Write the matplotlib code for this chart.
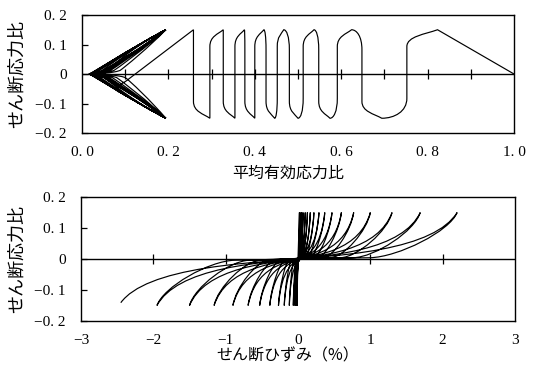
import matplotlib
matplotlib.use("Agg")
import matplotlib.pyplot as plt
from matplotlib.path import Path
from matplotlib.patches import PathPatch

# ---------------- data ----------------
# Top: stress path (mean effective stress ratio vs shear stress ratio)
top_start = (1.0, 0.0)
top_tip_p = [0.823, 0.694, 0.624, 0.574, 0.537, 0.500, 0.467, 0.446,
             0.421, 0.400, 0.376, 0.354, 0.327, 0.296, 0.258]
top_tip_q = [0.15, -0.15, 0.15, -0.15, 0.15, -0.15, 0.15, -0.15,
             0.15, -0.15, 0.15, -0.15, 0.15, -0.15, 0.15]
top_branch_p = [0.752, 0.648, 0.591, 0.548, 0.512, 0.480, 0.452,
                0.426, 0.400, 0.377, 0.354, 0.327, 0.296, 0.258]
# unloading from the last pre-liquefaction peak, with its hook
top_drop_p = [0.100, 0.078, 0.085]
top_drop_q = [-0.026, -0.040, -0.060]
# butterfly (cyclic mobility) part
bfly_tip_p = 0.194
bfly_tip_q = 0.15
bfly_unload_p = [0.100, 0.088, 0.080, 0.074, 0.070, 0.066, 0.063, 0.061, 0.059,
                 0.057, 0.056, 0.055, 0.054, 0.053, 0.052, 0.051, 0.050, 0.050]
bfly_nose_p = [0.045, 0.038, 0.033, 0.029, 0.026, 0.024, 0.022, 0.021, 0.020,
               0.019, 0.019, 0.018, 0.018, 0.017, 0.017, 0.016, 0.016, 0.016]
bfly_fail_slope = 0.773
bfly_end = (0.183, -0.141)

# Bottom: stress-strain loops
bot_peak_strain = [0.02, 0.03, 0.05, 0.07, 0.10, 0.13, 0.17, 0.22, 0.29,
                   0.37, 0.47, 0.60, 0.77, 1.00, 1.30, 1.69, 2.20]
bot_trough_strain = [-0.01, -0.015, -0.02, -0.03, -0.045, -0.065, -0.12, -0.19,
                     -0.27, -0.39, -0.53, -0.69, -0.90, -1.16, -1.50, -1.95]
bot_tip_q = 0.15
bot_end = (-2.45, -0.141)

top_xticks = [0.0, 0.2, 0.4, 0.6, 0.8, 1.0]
top_xlabels = ["0. 0", "0. 2", "0. 4", "0. 6", "0. 8", "1. 0"]
yticks = [-0.2, -0.1, 0.0, 0.1, 0.2]
ylabels = ["\u22120. 2", "\u22120. 1", "0", "0. 1", "0. 2"]
bot_xticks = [-3, -2, -1, 0, 1, 2, 3]
bot_xlabels = ["\u22123", "\u22122", "\u22121", "0", "1", "2", "3"]
top_zero_ticks = [0.1, 0.2, 0.3, 0.4, 0.5, 0.6, 0.7, 0.8, 0.9]
bot_zero_ticks = [-2, -1, 1, 2]

# ---------------- figure ----------------
W, H = 534, 369
fig = plt.figure(figsize=(W / 100, H / 100), dpi=100)
ax1 = fig.add_axes([82 / W, 1 - 133 / H, 432 / W, 118 / H])
ax2 = fig.add_axes([81 / W, 1 - 321 / H, 434 / W, 124 / H])

M, L, C = Path.MOVETO, Path.LINETO, Path.CURVE4
LW = 0.85

# ---- top path ----
v = [top_start, (top_tip_p[0], top_tip_q[0])]
c = [M, L]
for i in range(len(top_branch_p)):
    pa, qa = top_tip_p[i], top_tip_q[i]
    pb, qb = top_tip_p[i + 1], top_tip_q[i + 1]
    br = top_branch_p[i]
    v += [(pa - 0.4 * (pa - br), qa * 0.9), (br, qa * 0.85), (br, qa * 0.62)]
    c += [C, C, C]
    v += [(br, qb * 0.55)]
    c += [L]
    v += [(br, qb * 0.85), (pb + 0.5 * (br - pb), qb), (pb, qb)]
    c += [C, C, C]
# drop to hook and to the first butterfly tip
v += [(top_drop_p[0], top_drop_q[0])]
c += [L]
v += [(top_drop_p[1], top_drop_q[1]), (top_drop_p[1], top_drop_q[2]),
      (top_drop_p[2], top_drop_q[2])]
c += [C, C, C]
v += [(bfly_tip_p, -bfly_tip_q)]
c += [L]
s = -1.0
for k, (pu, pn) in enumerate(zip(bfly_unload_p, bfly_nose_p)):
    qa = s * bfly_tip_q
    # unloading from the tip, then the turn at the nose
    v += [(bfly_tip_p - 0.35 * (bfly_tip_p - pu), qa * 0.62),
          (pu + 0.01, s * 0.022), (pu, s * 0.012)]
    c += [C, C, C]
    v += [(pu - 0.02, s * 0.002), (pn + 0.004, s * 0.002), (pn, 0.0)]
    c += [C, C, C]
    if k == len(bfly_nose_p) - 1:
        end = bfly_end
    else:
        end = (bfly_tip_p, -qa)
    v += [(pn + 0.012, -s * 0.006), (0.10, -s * 0.10 * bfly_fail_slope), end]
    c += [C, C, C]
    s = -s
ax1.add_patch(PathPatch(Path(v, c), fill=False, lw=LW, color="black"))

# ---- bottom path ----
tips = []
for i in range(len(bot_peak_strain)):
    tips.append((bot_peak_strain[i], bot_tip_q))
    if i < len(bot_trough_strain):
        tips.append((bot_trough_strain[i], -bot_tip_q))
tips.append(bot_end)
v = [(0.0, 0.0), tips[0]]
c = [M, L]
for i in range(len(tips) - 1):
    ga, qa = tips[i]
    gb, qb = tips[i + 1]
    sg = 1.0 if qa > 0 else -1.0
    ux, uq = ga * 0.45, sg * 0.004
    v += [(ga - 0.083 * (ga - ux), qa * 0.6), (ux + 0.33 * (ga - ux), qa * 0.04), (ux, uq)]
    c += [C, C, C]
    v += [(ux + 0.52 * (gb - ux), 0.0), (ux + 0.9 * (gb - ux), qb * 0.23), (gb, qb)]
    c += [C, C, C]
ax2.add_patch(PathPatch(Path(v, c), fill=False, lw=LW, color="black"))

# ---- axes styling ----
serif = "Liberation Serif"
jp = "Noto Sans CJK JP"
for ax, xl, xt, xlab, zt in [(ax1, (0, 1), top_xticks, top_xlabels, top_zero_ticks),
                             (ax2, (-3, 3), bot_xticks, bot_xlabels, bot_zero_ticks)]:
    ax.set_xlim(*xl)
    ax.set_ylim(-0.2, 0.2)
    ax.axhline(0, color="black", lw=1.0)
    ax.plot(zt, [0] * len(zt), ls="none", marker="|", ms=7, mew=0.9, color="black")
    ax.set_xticks(xt)
    ax.set_xticklabels(xlab, family=serif, fontsize=11)
    ax.set_yticks(yticks)
    ax.set_yticklabels(ylabels, family=serif, fontsize=11)
    ax.tick_params(axis="x", length=0, pad=9)
    ax.tick_params(axis="y", direction="in", length=4, width=0.9, pad=11)
    for sp in ax.spines.values():
        sp.set_linewidth(1.0)

fig.text(17 / W, 1 - 74 / H, "せん断応力比", rotation=90, ha="center", va="center",
         family=jp, fontsize=13)
fig.text(17 / W, 1 - 259 / H, "せん断応力比", rotation=90, ha="center", va="center",
         family=jp, fontsize=13)
fig.text(288 / W, 1 - 173 / H, "平均有効応力比", ha="center", va="center",
         family=jp, fontsize=11.5)
fig.text(288 / W, 1 - 356 / H, "せん断ひずみ（%）", ha="center", va="center",
         family=jp, fontsize=11.5)

fig.savefig("out.png", dpi=100)
